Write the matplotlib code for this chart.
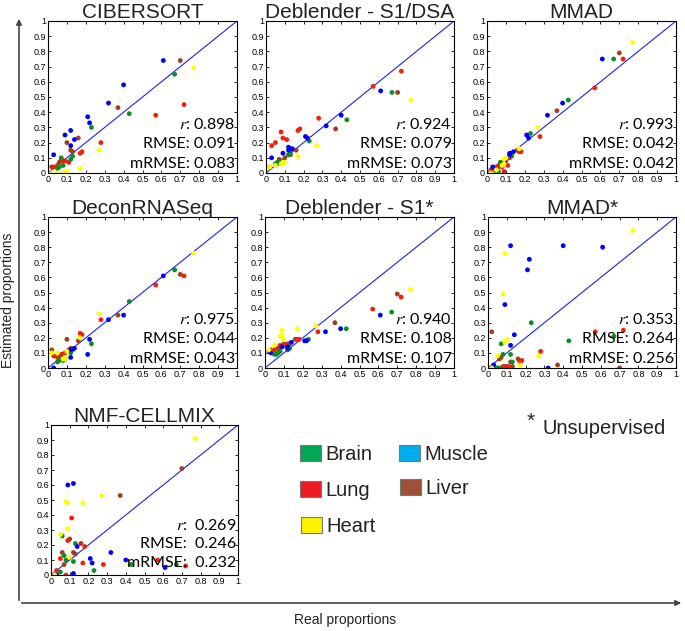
"""Estimated vs real cell-type proportions for seven deconvolution methods."""

import matplotlib
matplotlib.use("Agg")
import matplotlib.pyplot as plt
from matplotlib.patches import Rectangle, FancyArrowPatch

plt.rcParams["mathtext.fontset"] = "stix"

# Real proportions per tissue (shared by every method)
brain_real = [0.05, 0.06, 0.07, 0.08, 0.12, 0.13, 0.23, 0.43, 0.67]
muscle_real = [0.03, 0.09, 0.12, 0.12, 0.14, 0.21, 0.22, 0.32, 0.40, 0.61]
lung_real = [0.03, 0.05, 0.08, 0.09, 0.11, 0.17, 0.18, 0.28, 0.57, 0.72]
liver_real = [0.02, 0.06, 0.07, 0.10, 0.12, 0.13, 0.16, 0.37, 0.70]
heart_real = [0.02, 0.05, 0.08, 0.09, 0.09, 0.10, 0.17, 0.27, 0.77]

# Estimated proportions per method, same order as the real lists
cibersort = {
    "Brain": [0.03, 0.04, 0.10, 0.05, 0.09, 0.11, 0.30, 0.39, 0.65],
    "Muscle": [0.12, 0.25, 0.18, 0.28, 0.22, 0.37, 0.33, 0.46, 0.58, 0.74],
    "Lung": [0.04, 0.05, 0.08, 0.08, 0.07, 0.13, 0.14, 0.20, 0.38, 0.45],
    "Liver": [0.04, 0.07, 0.09, 0.20, 0.15, 0.14, 0.23, 0.43, 0.74],
    "Heart": [0.00, 0.00, 0.00, 0.01, 0.00, 0.01, 0.03, 0.15, 0.69],
}
deblender_dsa = {
    "Brain": [0.06, 0.06, 0.07, 0.08, 0.12, 0.13, 0.21, 0.35, 0.53],
    "Muscle": [0.10, 0.13, 0.17, 0.15, 0.16, 0.24, 0.23, 0.31, 0.38, 0.54],
    "Lung": [0.18, 0.20, 0.27, 0.23, 0.22, 0.28, 0.29, 0.36, 0.57, 0.67],
    "Liver": [0.04, 0.07, 0.09, 0.10, 0.12, 0.12, 0.15, 0.29, 0.53],
    "Heart": [0.04, 0.05, 0.06, 0.06, 0.07, 0.07, 0.11, 0.18, 0.48],
}
mmad = {
    "Brain": [0.00, 0.01, 0.07, 0.05, 0.12, 0.12, 0.26, 0.48, 0.75],
    "Muscle": [0.04, 0.08, 0.12, 0.13, 0.14, 0.25, 0.23, 0.38, 0.46, 0.75],
    "Lung": [0.02, 0.04, 0.04, 0.01, 0.05, 0.14, 0.14, 0.24, 0.56, 0.75],
    "Liver": [0.02, 0.04, 0.06, 0.08, 0.10, 0.11, 0.15, 0.41, 0.79],
    "Heart": [0.00, 0.02, 0.05, 0.06, 0.09, 0.10, 0.16, 0.30, 0.86],
}
deconrnaseq = {
    "Brain": [0.04, 0.05, 0.06, 0.05, 0.10, 0.12, 0.16, 0.44, 0.65],
    "Muscle": [0.00, 0.06, 0.07, 0.12, 0.13, 0.09, 0.19, 0.32, 0.35, 0.61],
    "Lung": [0.08, 0.07, 0.09, 0.10, 0.12, 0.23, 0.22, 0.32, 0.55, 0.61],
    "Liver": [0.12, 0.07, 0.09, 0.19, 0.13, 0.13, 0.18, 0.35, 0.62],
    "Heart": [0.10, 0.10, 0.06, 0.06, 0.07, 0.11, 0.20, 0.36, 0.76],
}
deblender_s1 = {
    "Brain": [0.09, 0.09, 0.10, 0.11, 0.12, 0.13, 0.19, 0.26, 0.37],
    "Muscle": [0.10, 0.14, 0.13, 0.14, 0.17, 0.18, 0.18, 0.24, 0.26, 0.35],
    "Lung": [0.12, 0.12, 0.15, 0.14, 0.15, 0.19, 0.19, 0.24, 0.39, 0.47],
    "Liver": [0.11, 0.13, 0.13, 0.16, 0.16, 0.16, 0.19, 0.30, 0.49],
    "Heart": [0.12, 0.15, 0.21, 0.25, 0.22, 0.19, 0.26, 0.28, 0.52],
}
mmad_unsup = {
    "Brain": [0.00, 0.00, 0.16, 0.09, 0.09, 0.04, 0.30, 0.18, 0.21],
    "Muscle": [0.02, 0.42, 0.81, 0.15, 0.22, 0.65, 0.72, 0.00, 0.81, 0.80],
    "Lung": [0.00, 0.00, 0.01, 0.01, 0.01, 0.04, 0.05, 0.11, 0.24, 0.25],
    "Liver": [0.24, 0.06, 0.07, 0.01, 0.04, 0.01, 0.06, 0.02, 0.00],
    "Heart": [0.00, 0.08, 0.49, 0.76, 0.17, 0.19, 0.02, 0.08, 0.91],
}
nmf_cellmix = {
    "Brain": [0.02, 0.26, 0.13, 0.10, 0.09, 0.21, 0.03, 0.07, 0.07],
    "Muscle": [0.00, 0.60, 0.61, 0.01, 0.19, 0.11, 0.08, 0.15, 0.10, 0.05],
    "Lung": [0.03, 0.11, 0.00, 0.23, 0.38, 0.08, 0.19, 0.07, 0.10, 0.06],
    "Liver": [0.00, 0.15, 0.07, 0.24, 0.15, 0.14, 0.21, 0.53, 0.71],
    "Heart": [0.00, 0.27, 0.49, 0.48, 0.31, 0.12, 0.48, 0.53, 0.91],
}

titles = ["CIBERSORT", "Deblender - S1/DSA", "MMAD", "DeconRNASeq",
          "Deblender - S1*", "MMAD*", "NMF-CELLMIX"]
estimates = [cibersort, deblender_dsa, mmad, deconrnaseq,
             deblender_s1, mmad_unsup, nmf_cellmix]
r_vals = ["0.898", "0.924", "0.993", "0.975", "0.940", "0.353", "0.269"]
rmse_vals = ["0.091", "0.079", "0.042", "0.044", "0.108", "0.264", "0.246"]
mrmse_vals = ["0.083", "0.073", "0.042", "0.043", "0.107", "0.256", "0.232"]

tissues = ["Brain", "Muscle", "Lung", "Liver", "Heart"]
real = {"Brain": brain_real, "Muscle": muscle_real, "Lung": lung_real,
        "Liver": liver_real, "Heart": heart_real}
point_colors = {"Brain": "#0a8f2a", "Muscle": "#0000ff", "Lung": "#f0200a",
                "Liver": "#a0401a", "Heart": "#ffff00"}
legend_colors = {"Brain": "#00a651", "Muscle": "#00aeef", "Lung": "#ed1c24",
                 "Liver": "#9e5038", "Heart": "#fff200"}

W, H = 685, 631
fig = plt.figure(figsize=(W / 100, H / 100), dpi=100)

# axes boxes in pixels: left, top, right, bottom
boxes = [
    (48, 21, 237, 173), (266, 21, 454, 173), (487, 21, 676, 173),
    (48, 217, 237, 368), (265, 217, 454, 368), (488, 217, 676, 368),
    (51, 425, 238, 575),
]
draw_order = ["Liver", "Lung", "Brain", "Muscle", "Heart"]

for i, (title, est) in enumerate(zip(titles, estimates)):
    l, t, r, b = boxes[i]
    ax = fig.add_axes([l / W, 1 - b / H, (r - l) / W, (b - t) / H])
    ax.plot([0, 1], [0, 1], color="#1f1fff", lw=0.8, zorder=1)
    for tissue in draw_order:
        ax.scatter(real[tissue], est[tissue], s=12, color=point_colors[tissue],
                   edgecolors="none", zorder=2)
    ax.set_xlim(0, 1)
    ax.set_ylim(0, 1)
    ticks = [k / 10 for k in range(11)]
    labels = ["0"] + [f"{k / 10:g}" for k in range(1, 10)] + ["1"]
    ax.set_xticks(ticks)
    ax.set_yticks(ticks)
    ax.set_xticklabels(labels)
    ax.set_yticklabels(labels)
    ax.tick_params(direction="in", length=2, width=0.6, labelsize=6.5,
                   top=True, right=True, pad=1.5)
    for lab in ax.get_xticklabels() + ax.get_yticklabels():
        lab.set_family("Liberation Sans")
    for sp in ax.spines.values():
        sp.set_linewidth(0.8)
    ax.set_title(title, fontsize=15, family="Liberation Sans", pad=2,
                 color="#222222")

    sep = ":  " if i == 6 else ": "
    ys = [0.32, 0.19, 0.06] if i < 6 else [0.33, 0.21, 0.08]
    ax.text(0.99, ys[0], r"$\mathit{r}$" + sep + r_vals[i], transform=ax.transAxes,
            ha="right", va="center", fontsize=11.5, family="Lato")
    ax.text(0.99, ys[1], "RMSE" + sep + rmse_vals[i], transform=ax.transAxes,
            ha="right", va="center", fontsize=11.5, family="Lato")
    ax.text(0.99, ys[2], "mRMSE" + sep + mrmse_vals[i], transform=ax.transAxes,
            ha="right", va="center", fontsize=11.5, family="Lato")

# Outer arrows
arrow_kw = dict(arrowstyle="-|>", color="#444444", lw=1.2, mutation_scale=8)
fig.add_artist(FancyArrowPatch(
    (19 / W, 1 - 603 / H), (19 / W, 1 - 16 / H), transform=fig.transFigure, **arrow_kw))
fig.add_artist(FancyArrowPatch(
    (19 / W, 1 - 603 / H), (684 / W, 1 - 603 / H), transform=fig.transFigure, **arrow_kw))

fig.text(8 / W, 1 - 300 / H, "Estimated proportions", rotation=90, ha="center",
         va="center", fontsize=10, family="Liberation Sans", color="#222222")
fig.text(345 / W, 1 - 620 / H, "Real proportions", ha="center", va="center",
         fontsize=10, family="Liberation Sans", color="#222222")

# Legend
legend_pos = {"Brain": (300, 445), "Muscle": (399, 445), "Lung": (300, 481),
              "Liver": (400, 479), "Heart": (301, 517)}
for tissue in tissues:
    x0, y0 = legend_pos[tissue]
    fig.add_artist(Rectangle((x0 / W, 1 - (y0 + 16) / H), 21 / W, 16 / H,
                             transform=fig.transFigure, facecolor=legend_colors[tissue],
                             edgecolor="#777777", lw=0.8))
    fig.text((x0 + 25) / W, 1 - (y0 + 9) / H, tissue, ha="left", va="center",
             fontsize=14.5, family="Liberation Sans", color="#222222")

fig.text(527 / W, 1 - 421 / H, "*", ha="left", va="center", fontsize=15,
         family="Liberation Sans", color="#222222")
fig.text(543 / W, 1 - 429 / H, "Unsupervised", ha="left", va="center",
         fontsize=14.5, family="Liberation Sans", color="#222222")

fig.savefig("out.png", dpi=100)
